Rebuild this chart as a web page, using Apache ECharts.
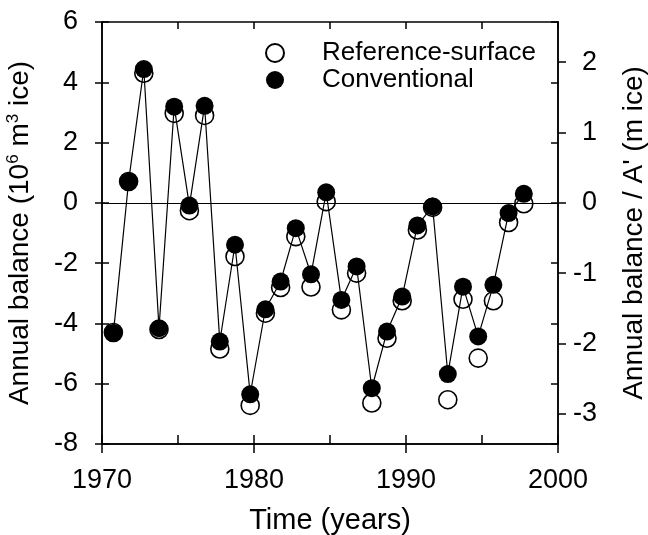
<!DOCTYPE html>
<html>
<head>
<meta charset="utf-8">
<script src="https://cdn.jsdelivr.net/npm/echarts@6/dist/echarts.min.js"></script>
<style>
html,body{margin:0;padding:0;background:#fff;}
#chart{width:648px;height:535px;}
</style>
</head>
<body>
<div id="chart"></div>
<script>
// Data
const years = [1970.75, 1971.75, 1972.75, 1973.75, 1974.75, 1975.75, 1976.75, 1977.75, 1978.75, 1979.75,
               1980.75, 1981.75, 1982.75, 1983.75, 1984.75, 1985.75, 1986.75, 1987.75, 1988.75, 1989.75,
               1990.75, 1991.75, 1992.75, 1993.75, 1994.75, 1995.75, 1996.75, 1997.75];
const conventional = [-4.32, 0.71, 4.44, -4.16, 3.19, -0.09, 3.22, -4.6, -1.39, -6.35,
                      -3.53, -2.61, -0.84, -2.37, 0.35, -3.22, -2.11, -6.15, -4.27, -3.11,
                      -0.75, -0.12, -5.68, -2.78, -4.43, -2.72, -0.34, 0.3];
const referenceSurface = [-4.3, 0.71, 4.3, -4.2, 2.97, -0.26, 2.9, -4.85, -1.78, -6.72,
                          -3.66, -2.81, -1.12, -2.79, 0.04, -3.55, -2.33, -6.64, -4.49, -3.25,
                          -0.9, -0.15, -6.53, -3.2, -5.15, -3.25, -0.65, -0.03];
const rightTicks = [-3, -2, -1, 0, 1, 2];
const areaFactor = 2.335; // 10^6 m^3 per m (A')

const FONT = '"Liberation Sans", Arial, sans-serif';
const black = '#000';
const lineW = 1.5;

const chart = echarts.init(document.getElementById('chart'), null, {renderer: 'canvas'});

const grid = {left: 102, right: 90, top: 22, bottom: 91, containLabel: false, outerBoundsMode: 'none'};

function baseX(extra) {
  return Object.assign({
    type: 'value', min: 1970, max: 2000, gridIndex: 0,
    axisLine: {show: true, onZero: false, lineStyle: {color: black, width: lineW}},
    splitLine: {show: false},
    axisLabel: {show: false},
    axisTick: {show: true, lineStyle: {color: black, width: lineW}}
  }, extra);
}
function baseY(extra) {
  return Object.assign({
    type: 'value', min: -8, max: 6, interval: 2, gridIndex: 0,
    axisLine: {show: true, onZero: false, lineStyle: {color: black, width: lineW}},
    splitLine: {show: false},
    axisLabel: {show: false},
    axisTick: {show: true, lineStyle: {color: black, width: lineW}}
  }, extra);
}

const option = {
  backgroundColor: '#fff',
  animation: false,
  textStyle: {fontFamily: FONT, color: black},
  grid: grid,
  legend: {
    orient: 'vertical',
    left: 260, top: 35,
    itemWidth: 84, itemHeight: 18, itemGap: 1,
    selectedMode: false,
    textStyle: {fontFamily: FONT, fontSize: 26, color: black},
    data: [
      {name: 'Reference-surface', icon: 'circle'},
      {name: 'Conventional', icon: 'circle'}
    ]
  },
  xAxis: [
    baseX({
      position: 'bottom', interval: 10,
      axisTick: {show: true, inside: false, length: 9, lineStyle: {color: black, width: lineW}},
      axisLabel: {show: true, margin: 23, fontSize: 27, fontFamily: FONT, color: black,
                  formatter: v => String(v)},
      name: 'Time (years)', nameLocation: 'middle', nameGap: 62,
      nameTextStyle: {fontSize: 29, fontFamily: FONT, color: black}
    }),
    baseX({position: 'bottom', interval: 5,
      axisTick: {show: true, inside: true, length: 9, lineStyle: {color: black, width: lineW}}}),
    baseX({position: 'top', interval: 5,
      axisTick: {show: true, inside: true, length: 7, lineStyle: {color: black, width: lineW}}})
  ],
  yAxis: [
    baseY({
      position: 'left',
      axisTick: {show: true, inside: false, length: 7, lineStyle: {color: black, width: lineW}},
      axisLabel: {show: true, margin: 24, fontSize: 27, fontFamily: FONT, color: black},
      name: 'Annual balance (10{sup|6} m{sup|3} ice)', nameLocation: 'middle', nameGap: 67,
      nameTextStyle: {fontSize: 28, fontFamily: FONT, color: black, lineHeight: 30,
        rich: {sup: {fontSize: 17, fontFamily: FONT, color: black, verticalAlign: 'top', lineHeight: 17}}}
    }),
    baseY({position: 'left',
      axisTick: {show: true, inside: true, length: 7, lineStyle: {color: black, width: lineW}}}),
    baseY({position: 'right',
      axisTick: {show: true, inside: true, length: 7, lineStyle: {color: black, width: lineW}}}),
    {
      type: 'value', position: 'right', gridIndex: 0,
      min: -8 / areaFactor, max: 6 / areaFactor,
      axisLine: {show: true, onZero: false, lineStyle: {color: black, width: lineW}},
      splitLine: {show: false},
      axisTick: {show: true, inside: false, length: 8, customValues: rightTicks, lineStyle: {color: black, width: lineW}},
      axisLabel: {show: true, margin: 39, align: 'right', fontSize: 27, fontFamily: FONT, color: black, customValues: rightTicks},
      name: "Annual balance / A' (m ice)", nameLocation: 'middle', nameGap: 62,
      nameTextStyle: {fontSize: 28, fontFamily: FONT, color: black}
    }
  ],
  series: [
    {
      name: 'Reference-surface', type: 'scatter',
      xAxisIndex: 0, yAxisIndex: 0, z: 2,
      symbol: 'circle', symbolSize: 18,
      itemStyle: {color: '#fff', borderColor: black, borderWidth: 1.6, opacity: 1},
      data: years.map((y, i) => [y, referenceSurface[i]])
    },
    {
      name: 'Conventional', type: 'line',
      xAxisIndex: 0, yAxisIndex: 0, z: 3,
      symbol: 'circle', symbolSize: 18, showAllSymbol: true,
      lineStyle: {color: black, width: 1.2},
      itemStyle: {color: black, borderColor: black, borderWidth: 0},
      emphasis: {disabled: true},
      data: years.map((y, i) => [y, conventional[i]]),
      markLine: {
        silent: true, symbol: ['none', 'none'], label: {show: false},
        lineStyle: {color: black, width: 1, type: 'solid'},
        data: [{yAxis: 0}]
      }
    }
  ]
};
chart.setOption(option);
</script>
</body>
</html>
